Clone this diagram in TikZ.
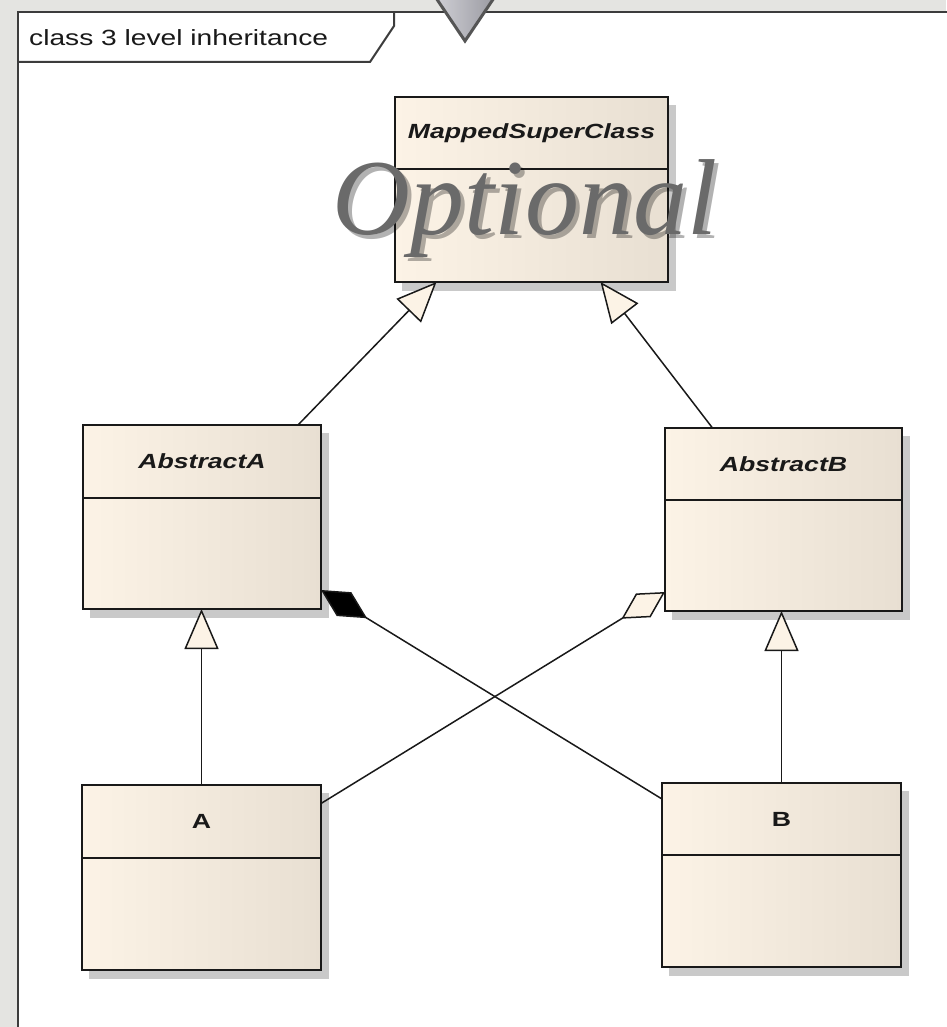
\documentclass[tikz,border=0pt]{standalone}
\usepackage{fontspec}
\usetikzlibrary{arrows.meta,calc}
\newfontfamily\framefont[FakeStretch=1.28]{Liberation Sans}
\newfontfamily\classfont[FakeStretch=1.3]{Liberation Sans}
\newfontfamily\bannerfont{Liberation Serif}

\definecolor{bgpaper}{HTML}{E4E4E1}
\definecolor{framegrey}{HTML}{3C3C3C}
\definecolor{creamL}{HTML}{FCF3E6}
\definecolor{creamR}{HTML}{E8DFD2}
\definecolor{shadowgrey}{HTML}{C9C9C9}
\definecolor{optgrey}{HTML}{6A6A6A}
\definecolor{pinL}{HTML}{D2D2D8}
\definecolor{pinR}{HTML}{98989F}
\definecolor{pinedge}{HTML}{555555}

\tikzset{
  classbox/.style={draw=black!90, line width=2.5pt, inner sep=0pt, outer sep=0pt,
    left color=creamL, middle color=creamL, right color=creamR},
  classline/.style={draw=black!90, line width=2.5pt},
  classlabel/.style={font=\classfont\bfseries\itshape\fontsize{20.5}{22}\selectfont, text=black!90, inner sep=0pt},
  plainlabel/.style={font=\classfont\bfseries\fontsize{20.5}{22}\selectfont, text=black!90, inner sep=0pt},
  wire/.style={draw=black!90, line width=1.5pt, line join=miter},
  gen/.style={wire, -{Triangle[length=40pt,width=34pt,fill=creamL]}},
  comp/.style={wire, -{Diamond[length=54pt,width=28pt,fill=black]}},
  agg/.style={wire, -{Diamond[length=51pt,width=28pt,fill=creamL]}},
  banner/.style={font=\bannerfont\itshape\fontsize{108}{108}\selectfont, anchor=base, inner sep=0pt},
}

% shadowed class box with a name compartment and an empty body
\newcommand\umlclass[8]{% name, x1, y1, x2, y2, divider y, label, label style
  \fill[shadowgrey] (#2+7,#3+8) rectangle (#4+8,#5+9);
  \node[classbox, minimum width={(#4-#2)*1pt}, minimum height={(#5-#3)*1pt}]
    (#1) at ({(#2+#4)/2},{(#3+#5)/2}) {};
  \draw[classline] (#2,#6) -- (#4,#6);
  \node[#8] (#1-name) at ({(#2+#4)/2},{(#3+#6)/2}) {#7};
}

\begin{document}
\begin{tikzpicture}[x=1pt,y=-1pt]
\useasboundingbox (0,0) rectangle (946,1027);

% paper and diagram frame
\fill[bgpaper] (0,0) rectangle (946,1027);
\fill[white] (18,12) rectangle (952,1035);
\draw[framegrey, line width=2.5pt] (18,1035) -- (18,12) -- (952,12);

% frame name tab
\draw[framegrey, line width=2pt, line join=miter] (18,62) -- (370,62) -- (394,26) -- (394,12);
\node[font=\framefont\fontsize{22}{24}\selectfont, anchor=base west, inner sep=0pt, text=black!90]
  (frametitle) at (29,46) {class 3 level inheritance};

% pointer marker at the top edge
\path[draw=pinedge, line width=3pt, line join=miter, left color=pinL, right color=pinR]
  (432,-8) -- (498,-8) -- (465,41) -- cycle;

% classes
\umlclass{msc}{395}{97}{668}{282}{169}{MappedSuperClass}{classlabel}
\umlclass{absA}{83}{425}{321}{609}{498}{AbstractA}{classlabel}
\umlclass{absB}{665}{428}{902}{611}{500}{AbstractB}{classlabel}
\umlclass{clsA}{82}{785}{321}{970}{858}{A}{plainlabel}
\umlclass{clsB}{662}{783}{901}{967}{855}{B}{plainlabel}

% generalizations
\draw[gen] ([xshift=96pt]absA.north) -- ([xshift=-95pt]msc.south);
\draw[gen] ([xshift=-71pt]absB.north) -- ([xshift=69pt]msc.south);
\draw[gen] (clsA.north) -- (clsA.north |- absA.south);
\draw[gen] (clsB.north) -- (clsB.north |- absB.south);

% composition and aggregation
\draw[comp] ([yshift=76pt]clsB.west) -- ([yshift=19pt]absA.south east);
\draw[agg] ([yshift=74pt]clsA.east) -- ([yshift=19pt]absB.south west);

% overlay caption with soft shadow
\node[banner, text=black, opacity=0.3] (optshadow) at (529,238) {Optional};
\node[banner, text=optgrey] (optional) at (525,234) {Optional};
\end{tikzpicture}
\end{document}
